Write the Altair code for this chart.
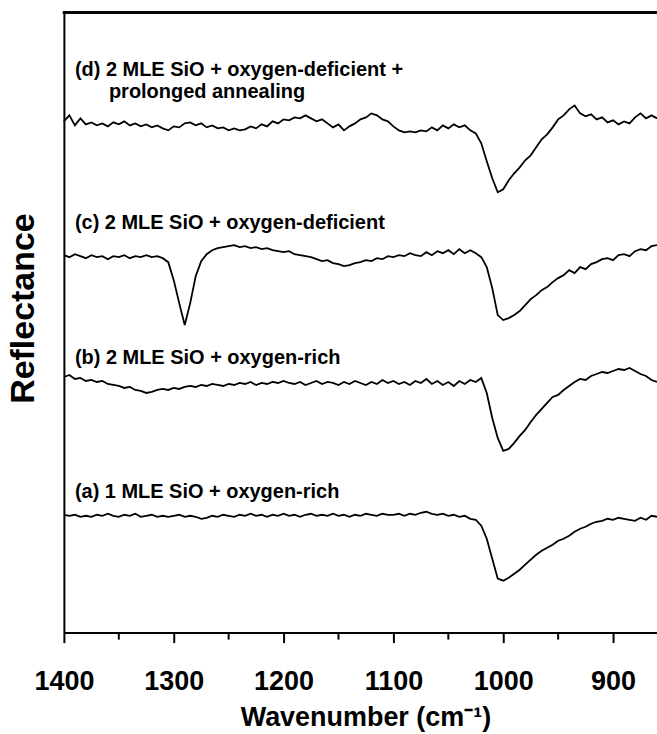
import altair as alt
import pandas as pd

# Wavenumber grid (cm^-1), 1400 -> 860 in steps of 5
wavenumber = list(range(1400, 855, -5))

# Reflectance traces (arbitrary units, offset for clarity)
curve_a = [118,117,118,116,117,116,118,117,119,117,
           116,118,117,119,116,117,118,116,117,116,
           117,118,116,117,116,114,115,117,116,118,
           117,116,118,117,119,117,118,116,118,117,
           119,117,118,116,118,119,117,118,117,119,
           117,118,116,118,117,119,118,117,119,118,
           118,119,117,119,118,120,121,119,118,119,
           117,118,116,117,114,113,107,94,74,54,
           52,55,59,63,68,73,78,82,85,88,
           92,94,97,101,104,106,109,111,112,114,
           113,115,114,113,112,115,113,117,116]

curve_b = [256,258,254,255,252,253,251,252,249,248,
           247,245,246,243,242,240,241,243,244,243,
           245,244,246,247,246,248,247,249,248,247,
           249,248,250,249,251,248,250,249,251,250,
           252,250,249,251,248,250,252,249,251,250,
           248,251,249,252,250,248,251,249,253,250,
           252,249,251,248,252,250,254,249,252,248,
           251,247,252,249,253,251,255,240,215,195,
           182,184,190,197,203,211,218,224,230,236,
           238,243,247,251,254,253,257,259,261,260,
           262,264,263,265,262,259,257,253,251]

curve_c = [378,376,379,377,375,378,376,377,374,377,
           376,378,375,377,376,378,376,377,375,371,
           353,330,308,330,357,372,379,383,385,386,
           387,388,386,387,385,386,384,385,383,382,
           381,382,379,378,377,376,374,372,373,370,
           369,367,368,370,371,373,372,375,374,377,
           376,378,377,380,378,377,381,378,382,380,
           383,379,384,380,383,380,376,366,345,318,
           313,315,318,322,328,334,338,343,346,351,
           355,358,363,360,366,364,369,371,374,375,
           373,378,379,377,382,384,383,387,388]

curve_d = [512,518,508,515,509,511,508,510,507,511,
           509,512,508,510,507,509,506,508,505,503,
           507,506,510,511,508,510,506,508,505,506,
           503,505,503,504,507,505,509,507,512,510,
           514,513,516,515,518,515,512,514,510,506,
           509,503,507,510,514,516,520,518,514,512,
           507,503,501,502,501,503,502,506,503,508,
           505,509,506,508,503,500,490,472,455,441,
           444,453,460,466,473,478,486,494,499,506,
           514,518,524,528,520,517,519,514,516,511,
           513,509,512,510,516,520,515,518,515]

series_names = ["a", "b", "c", "d"]
series_values = [curve_a, curve_b, curve_c, curve_d]

# Annotation labels
label_text = ["(a) 1 MLE SiO + oxygen-rich",
              "(b) 2 MLE SiO + oxygen-rich",
              "(c) 2 MLE SiO + oxygen-deficient",
              "(d) 2 MLE SiO + oxygen-deficient +",
              "prolonged annealing"]
label_x = [1390, 1390, 1390, 1390, 1359]
label_y = [141, 275, 410, 563, 541]

major_ticks = [1400, 1300, 1200, 1100, 1000, 900]
minor_ticks = [1350, 1250, 1150, 1050, 950]

rows = []
for name, vals in zip(series_names, series_values):
    for w, v in zip(wavenumber, vals):
        rows.append({"series": name, "wn": w, "val": v})
df = pd.DataFrame(rows)
labels_df = pd.DataFrame({"text": label_text, "wn": label_x, "val": label_y})
minor_df = pd.DataFrame({"wn": minor_ticks})

FONT = "Liberation Sans"

xscale = alt.Scale(domain=[860, 1400], reverse=True, nice=False, zero=False)
yscale = alt.Scale(domain=[0, 621], nice=False, zero=False)

lines = alt.Chart(df).mark_line(color="black", strokeWidth=1.8).encode(
    x=alt.X("wn:Q", scale=xscale,
            axis=alt.Axis(title="Wavenumber (cm⁻¹)", values=major_ticks,
                          format="d", grid=False, domainColor="black",
                          domainWidth=2, tickColor="black", tickWidth=2,
                          tickSize=10, labelFont=FONT, labelFontSize=27,
                          labelFontWeight="bold", labelColor="black",
                          labelPadding=26, labelFlush=False, labelOverlap=False,
                          titleFont=FONT, titleFontSize=27,
                          titleFontWeight="bold", titleColor="black",
                          titleX=302, titleY=85, titleBaseline="middle",
                          titleAlign="center")),
    y=alt.Y("val:Q", scale=yscale,
            axis=alt.Axis(title="Reflectance", labels=False, ticks=False,
                          grid=False, domain=True, domainColor="black",
                          domainWidth=2, titleFont=FONT,
                          titleFontSize=34, titleFontWeight="bold",
                          titleColor="black", titleX=-40, titleY=296,
                          titleAngle=270, titleAlign="center",
                          titleBaseline="middle")),
    detail="series:N",
)

texts = alt.Chart(labels_df).mark_text(
    align="left", baseline="middle", font=FONT, fontSize=20,
    fontWeight="bold", color="black"
).encode(x=alt.X("wn:Q", scale=xscale), y=alt.Y("val:Q", scale=yscale), text="text:N")

minor = alt.Chart(minor_df).mark_rule(color="black", strokeWidth=2).encode(
    x=alt.X("wn:Q", scale=xscale),
    y=alt.value(621), y2=alt.value(628),
)

top_border = alt.Chart(minor_df).mark_rule(color="black", strokeWidth=2).encode(
    x=alt.value(-1), x2=alt.value(600), y=alt.value(0),
)

chart = alt.layer(lines, texts, minor, top_border).properties(
    width=594, height=621,
    autosize=alt.AutoSizeParams(type="none"),
    padding={"left": 64, "top": 12, "right": 0, "bottom": 101},
).configure_view(stroke=None).configure(background="white")

chart.save("out.html", embed_options={"renderer": "svg", "actions": False})
